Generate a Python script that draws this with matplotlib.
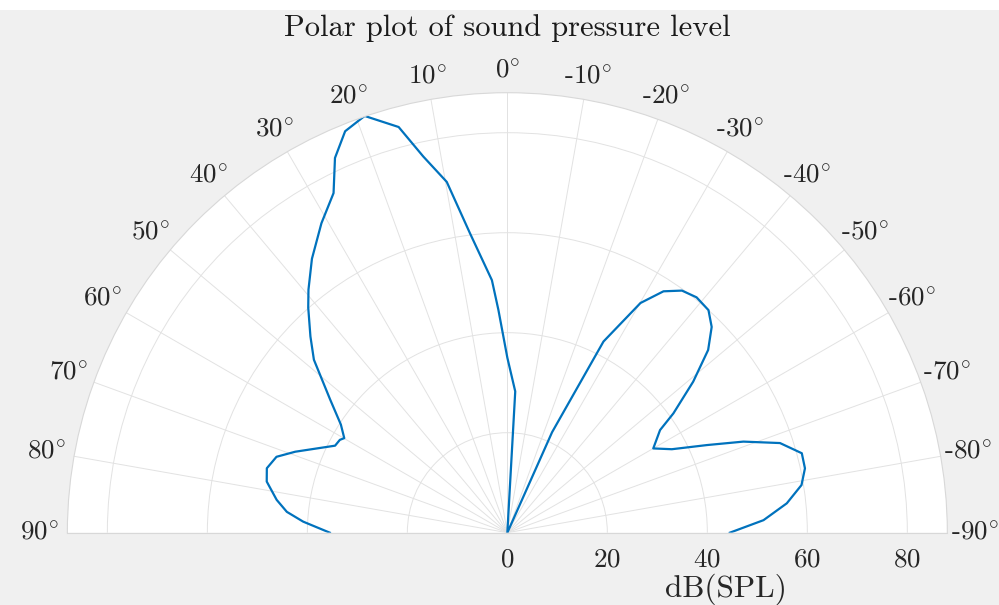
import numpy as np
import matplotlib
matplotlib.use("Agg")
import matplotlib.pyplot as plt
from matplotlib.patches import Rectangle

plt.rcParams['font.family'] = 'cmr10'
plt.rcParams['mathtext.fontset'] = 'cm'
plt.rcParams['axes.unicode_minus'] = False

# angulos (grados, 0 arriba, positivo hacia la izquierda) y nivel en dB(SPL)
angulos = [90, 86.9, 84.6, 81.9, 78.0, 75.0, 71.8, 69.1, 63.2, 61.0,
           59.9, 57.0, 53.1, 48.2, 45.1, 41.5, 39.3, 35.5, 31.0, 27.1,
           24.7, 22.0, 18.9, 15.0, 12.6, 9.8, 7.1, 3.5, 2.3, 0.0,
           -3.2, -6, -21, -24, -26.7, -30.1, -32.9, -35.8, -38.8, -42.1,
           -44.8, -47.7, -50.9, -54.3, -56.1, -60.0, -63.1, -66.3, -68.9, -71.8,
           -74.9, -77.8, -80.8, -84.0, -87.2, -90]
nivel = [35.5, 40.9, 44.3, 46.6, 49.2, 49.8, 48.6, 45.4, 38.6, 38.3,
         37.7, 39.7, 44.3, 51.9, 55.6, 60.1, 62.8, 67.3, 72.2, 76.3,
         82.5, 86.6, 88.1, 84.0, 77.1, 71.2, 60.3, 50.6, 44.6, 35.0,
         28.3, 0, 0, 22, 42.8, 53.1, 57.5, 59.7, 60.4, 60.0,
         58.0, 54.3, 47.9, 40.9, 36.8, 33.7, 36.9, 43.6, 50.6, 57.4,
         61.0, 60.9, 59.6, 56.2, 51.3, 44.5]

theta_ticks = list(range(-90, 91, 10))
r_ticks = [0, 20, 40, 60, 80]
r_max = 88

fig = plt.figure(figsize=(9.99, 6.05), dpi=100, facecolor='#f0f0f0')
# franja blanca arriba
fig.patches.append(Rectangle((0, 1 - 10 / 605), 1, 10 / 605, transform=fig.transFigure,
                             facecolor='white', edgecolor='none', zorder=0))

# caja cuadrada: el semicirculo queda centrado verticalmente dentro
ax = fig.add_axes([0.0674, -0.2441, 0.8809, 1.4545], projection='polar')
ax.set_facecolor('white')
ax.set_theta_zero_location('N')
ax.set_theta_direction(1)
ax.set_thetamin(-90)
ax.set_thetamax(90)
ax.set_rlim(0, r_max)

ax.plot(np.deg2rad(angulos), nivel, color='#0072BD', lw=1.6)

ax.set_xticks(np.deg2rad(theta_ticks))
ax.set_xticklabels([])
ax.set_yticks(r_ticks)
ax.set_yticklabels([f'${r}$' for r in r_ticks])
ax.tick_params(axis='y', pad=7, labelsize=19.5, labelcolor='#262626')
ax.grid(True, color='#e2e2e2', lw=0.7)
for s in ax.spines.values():
    s.set_color('#d8d8d8')
    s.set_linewidth(0.8)

# etiquetas de angulo centradas fuera del borde (guion normal, grados con mathtext)
for t in theta_ticks:
    lab = ('-' if t < 0 else '') + f'${abs(t)}^{{\\circ}}$'
    r_lab = r_max * (1 + (22 + 6 * abs(np.sin(np.deg2rad(t)))) / 440)
    ax.text(np.deg2rad(t), r_lab, lab, ha='center', va='center', fontsize=19.5,
            color='#262626', clip_on=False)

fig.text(726 / 999, 1 - 589 / 605, 'dB(SPL)', ha='center', va='center',
         fontsize=22.5, color='#262626')
fig.text(0.508, 1 - 28 / 605, 'Polar plot of sound pressure level', ha='center', va='center',
         fontsize=22, color='#1a1a1a')

fig.savefig('out.png', dpi=100, facecolor=fig.get_facecolor())
